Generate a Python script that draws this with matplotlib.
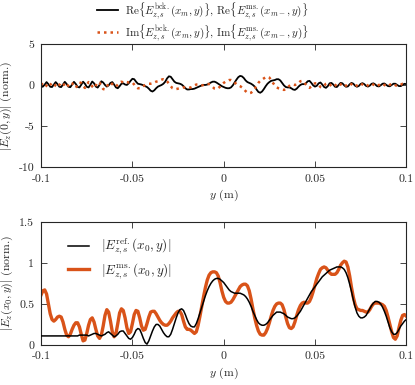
import matplotlib
matplotlib.use("Agg")
import matplotlib.pyplot as plt
import numpy as np

plt.rcParams['font.family'] = 'serif'
plt.rcParams['font.serif'] = ['cmr10', 'DejaVu Serif']
plt.rcParams['mathtext.fontset'] = 'cm'
plt.rcParams['axes.unicode_minus'] = False
plt.rcParams['font.size'] = 8.5

# sample positions along y (m), one every 1 mm
y_pos = np.linspace(-0.1, 0.1, 201)

# top panel: Re and Im of the field
re_field = [
    -0.25, -0.20, 0.05, 0.35, 0.10, -0.22, -0.25, 0.05, 0.35, 0.10,
    -0.22, -0.26, 0.05, 0.38, 0.12, -0.22, -0.27, 0.05, 0.38, 0.12,
    -0.24, -0.30, 0.03, 0.40, 0.15, -0.22, -0.30, 0.02, 0.42, 0.20,
    -0.20, -0.32, 0.00, 0.45, 0.30, 0.00, -0.20, -0.05, 0.25, 0.35,
    0.05, -0.30, -0.40, -0.15, 0.15, 0.20, 0.05, 0.00, 0.20, 0.50,
    0.75, 0.70, 0.40, 0.15, 0.10, 0.05, -0.05, -0.15, -0.25, -0.45,
    -0.70, -0.80, -0.65, -0.40, -0.20, -0.10, 0.00, 0.15, 0.40, 0.80,
    1.05, 1.00, 0.70, 0.40, 0.25, 0.20, 0.15, 0.05, -0.15, -0.40,
    -0.55, -0.55, -0.50, -0.50, -0.45, -0.35, -0.25, -0.15, -0.05, 0.00,
    0.00, 0.05, 0.15, 0.30, 0.40, 0.40, 0.30, 0.15, 0.00, -0.15,
    -0.25, -0.35, -0.40, -0.40, -0.30, -0.05, 0.30, 0.65, 0.95, 1.10,
    1.05, 0.85, 0.55, 0.35, 0.25, 0.15, 0.00, -0.20, -0.55, -0.85,
    -0.95, -0.80, -0.50, -0.15, 0.15, 0.35, 0.50, 0.55, 0.60, 0.70,
    0.70, 0.55, 0.25, -0.05, -0.25, -0.30, -0.30, -0.40, -0.55, -0.60,
    -0.45, -0.20, 0.00, 0.10, 0.10, 0.20, 0.45, 0.50, 0.25, -0.05,
    -0.20, -0.10, 0.20, 0.30, 0.05, -0.25, -0.35, -0.15, 0.20, 0.25,
    0.05, -0.22, -0.25, 0.00, 0.25, 0.20, -0.05, -0.22, -0.18, 0.08,
    0.25, 0.15, -0.10, -0.22, -0.12, 0.12, 0.22, 0.10, -0.12, -0.20,
    -0.08, 0.14, 0.20, 0.06, -0.14, -0.18, -0.04, 0.15, 0.18, 0.02,
    -0.14, -0.16, 0.00, 0.15, 0.15, 0.00, -0.14, -0.14, 0.02, 0.14,
    0.10,
]

im_field = [
    0.00, 0.28, 0.20, -0.12, -0.30, 0.00, 0.28, 0.20, -0.12, -0.30,
    0.00, 0.30, 0.22, -0.12, -0.32, 0.00, 0.30, 0.22, -0.14, -0.34,
    0.00, 0.32, 0.24, -0.15, -0.36, 0.00, 0.35, 0.25, -0.18, -0.40,
    -0.05, 0.35, 0.30, -0.15, -0.50, -0.55, -0.20, 0.20, 0.30, 0.10,
    -0.15, -0.20, 0.05, 0.30, 0.40, 0.30, 0.40, 0.35, 0.30, 0.35,
    0.30, 0.05, -0.25, -0.40, -0.40, -0.30, -0.15, 0.00, 0.10, 0.15,
    0.15, 0.20, 0.30, 0.40, 0.45, 0.55, 0.65, 0.70, 0.65, 0.45,
    0.15, -0.15, -0.40, -0.50, -0.50, -0.45, -0.40, -0.35, -0.30, -0.30,
    -0.30, -0.35, -0.30, -0.20, -0.05, 0.05, 0.05, 0.00, -0.05, 0.00,
    0.10, 0.15, 0.10, -0.05, -0.25, -0.45, -0.50, -0.40, -0.20, 0.05,
    0.25, 0.40, 0.50, 0.60, 0.60, 0.50, 0.30, 0.10, -0.05, -0.15,
    -0.30, -0.50, -0.75, -0.95, -1.00, -0.95, -0.75, -0.45, -0.10, 0.25,
    0.50, 0.65, 0.80, 0.95, 1.00, 0.90, 0.60, 0.25, -0.05, -0.30,
    -0.40, -0.45, -0.55, -0.60, -0.55, -0.35, -0.10, 0.05, 0.05, 0.00,
    0.05, 0.25, 0.45, 0.50, 0.35, 0.05, -0.25, -0.35, -0.20, 0.05,
    0.20, 0.20, 0.00, -0.25, -0.30, -0.10, 0.15, 0.25, 0.10, -0.15,
    -0.25, -0.10, 0.15, 0.25, 0.10, -0.15, -0.22, -0.08, 0.15, 0.22,
    0.08, -0.14, -0.20, -0.05, 0.15, 0.20, 0.05, -0.14, -0.18, -0.03,
    0.15, 0.18, 0.03, -0.14, -0.16, 0.00, 0.15, 0.16, 0.00, -0.14,
    -0.15, 0.02, 0.15, 0.14, -0.02, -0.14, -0.12, 0.03, 0.14, 0.12,
    -0.02,
]

# bottom panel: reference and measured magnitude
ref_mag = [
    0.11, 0.11, 0.11, 0.11, 0.11, 0.11, 0.11, 0.11, 0.11, 0.11,
    0.11, 0.11, 0.11, 0.11, 0.11, 0.11, 0.11, 0.11, 0.11, 0.11,
    0.11, 0.12, 0.12, 0.12, 0.12, 0.12, 0.11, 0.12, 0.13, 0.14,
    0.14, 0.13, 0.12, 0.11, 0.12, 0.13, 0.15, 0.16, 0.14, 0.12,
    0.10, 0.11, 0.13, 0.16, 0.17, 0.17, 0.14, 0.11, 0.08, 0.07,
    0.09, 0.13, 0.18, 0.20, 0.19, 0.14, 0.08, 0.03, 0.01, 0.05,
    0.11, 0.17, 0.22, 0.25, 0.25, 0.23, 0.19, 0.15, 0.12, 0.10,
    0.10, 0.13, 0.19, 0.26, 0.33, 0.39, 0.43, 0.44, 0.42, 0.37,
    0.31, 0.26, 0.23, 0.22, 0.22, 0.26, 0.32, 0.39, 0.46, 0.53,
    0.60, 0.66, 0.71, 0.75, 0.78, 0.80, 0.81, 0.81, 0.80, 0.78,
    0.76, 0.73, 0.70, 0.67, 0.65, 0.64, 0.63, 0.63, 0.63, 0.63,
    0.62, 0.61, 0.59, 0.56, 0.52, 0.47, 0.41, 0.36, 0.31, 0.27,
    0.25, 0.24, 0.24, 0.25, 0.27, 0.30, 0.33, 0.36, 0.38, 0.40,
    0.40, 0.40, 0.39, 0.38, 0.36, 0.34, 0.33, 0.32, 0.32, 0.33,
    0.35, 0.38, 0.41, 0.45, 0.49, 0.53, 0.57, 0.61, 0.65, 0.68,
    0.71, 0.74, 0.77, 0.80, 0.83, 0.85, 0.87, 0.89, 0.91, 0.92,
    0.93, 0.94, 0.95, 0.95, 0.95, 0.94, 0.92, 0.88, 0.82, 0.74,
    0.65, 0.55, 0.46, 0.39, 0.35, 0.33, 0.33, 0.34, 0.36, 0.40,
    0.44, 0.48, 0.51, 0.53, 0.53, 0.52, 0.50, 0.46, 0.41, 0.35,
    0.28, 0.21, 0.16, 0.13, 0.13, 0.15, 0.19, 0.23, 0.26, 0.29,
    0.31,
]

ms_mag = [
    0.61, 0.66, 0.67, 0.62, 0.50, 0.38, 0.31, 0.29, 0.31, 0.34,
    0.35, 0.34, 0.28, 0.19, 0.12, 0.10, 0.13, 0.19, 0.24, 0.27,
    0.27, 0.22, 0.13, 0.05, 0.06, 0.14, 0.24, 0.31, 0.33, 0.28,
    0.19, 0.11, 0.08, 0.12, 0.23, 0.36, 0.43, 0.40, 0.29, 0.16,
    0.10, 0.14, 0.26, 0.39, 0.44, 0.42, 0.33, 0.21, 0.14, 0.16,
    0.26, 0.37, 0.42, 0.41, 0.33, 0.23, 0.18, 0.19, 0.26, 0.34,
    0.40, 0.41, 0.41, 0.38, 0.34, 0.30, 0.27, 0.25, 0.24, 0.24,
    0.26, 0.29, 0.33, 0.36, 0.39, 0.41, 0.41, 0.37, 0.29, 0.22,
    0.19, 0.19, 0.18, 0.16, 0.14, 0.16, 0.24, 0.35, 0.47, 0.59,
    0.70, 0.79, 0.85, 0.88, 0.89, 0.89, 0.88, 0.84, 0.76, 0.66,
    0.58, 0.53, 0.51, 0.51, 0.52, 0.55, 0.59, 0.63, 0.67, 0.71,
    0.73, 0.74, 0.74, 0.72, 0.66, 0.56, 0.44, 0.33, 0.24, 0.17,
    0.13, 0.12, 0.12, 0.15, 0.20, 0.27, 0.35, 0.42, 0.47, 0.50,
    0.51, 0.51, 0.49, 0.43, 0.34, 0.26, 0.21, 0.20, 0.22, 0.28,
    0.36, 0.43, 0.48, 0.51, 0.52, 0.51, 0.51, 0.53, 0.58, 0.65,
    0.73, 0.81, 0.87, 0.92, 0.94, 0.95, 0.94, 0.91, 0.88, 0.86,
    0.86, 0.86, 0.88, 0.92, 0.97, 1.00, 1.02, 1.01, 0.95, 0.84,
    0.70, 0.58, 0.49, 0.44, 0.43, 0.42, 0.42, 0.41, 0.40, 0.40,
    0.43, 0.47, 0.50, 0.51, 0.51, 0.51, 0.50, 0.49, 0.47, 0.42,
    0.34, 0.25, 0.16, 0.09, 0.07, 0.11, 0.21, 0.30, 0.36, 0.37,
    0.35,
]

x_ticks = [-0.1, -0.05, 0, 0.05, 0.1]
x_ticklabels = ['-0.1', '-0.05', '0', '0.05', '0.1']
top_yticks = [-10, -5, 0, 5]
top_yticklabels = ['-10', '-5', '0', '5']
bot_yticks = [0, 0.5, 1, 1.5]
bot_yticklabels = ['0', '0.5', '1', '1.5']

orange = '#D95319'
axis_col = '#262626'

fig = plt.figure(figsize=(4.15, 3.85), dpi=100)
ax1 = fig.add_axes([0.099, 0.566, 0.880, 0.320])
ax2 = fig.add_axes([0.099, 0.104, 0.880, 0.320])


def style_axes(ax):
    for sp in ax.spines.values():
        sp.set_color(axis_col)
        sp.set_linewidth(0.8)
    ax.tick_params(direction='in', top=True, right=True, length=4,
                   width=0.6, colors=axis_col, labelsize=8.5)
    ax.tick_params(axis='x', pad=5)
    ax.tick_params(axis='y', pad=5)
    ax.set_xlim(-0.1, 0.1)
    ax.set_xticks(x_ticks)
    ax.set_xticklabels(x_ticklabels)
    ax.set_xlabel(r'$y$ (m)', color=axis_col, labelpad=3)


# top panel
l1, = ax1.plot(y_pos, re_field, color='black', lw=1.3)
l2, = ax1.plot(y_pos, im_field, color=orange, lw=1.8,
               linestyle=(0, (1, 1.6)))
style_axes(ax1)
ax1.set_ylim(-10, 5)
ax1.set_yticks(top_yticks)
ax1.set_yticklabels(top_yticklabels)
ax1.set_ylabel(r'$|E_z(0,y)|$ (norm.)', color=axis_col, labelpad=3)

fig.legend([l1, l2],
           [r'$\mathrm{Re}\{E_{z,s}^{\mathrm{bck.}}(x_m,y)\}$, '
            r'$\mathrm{Re}\{E_{z,s}^{\mathrm{ms.}}(x_{m-},y)\}$',
            r'$\mathrm{Im}\{E_{z,s}^{\mathrm{bck.}}(x_m,y)\}$, '
            r'$\mathrm{Im}\{E_{z,s}^{\mathrm{ms.}}(x_{m-},y)\}$'],
           loc='upper left', bbox_to_anchor=(0.21, 1.025), frameon=False,
           handlelength=1.9, handletextpad=0.6, labelspacing=0.12,
           fontsize=8, labelcolor=axis_col)

# bottom panel
l3, = ax2.plot(y_pos, ref_mag, color='black', lw=1.1, zorder=3)
l4, = ax2.plot(y_pos, ms_mag, color=orange, lw=2.4, zorder=2)
style_axes(ax2)
ax2.set_ylim(0, 1.5)
ax2.set_yticks(bot_yticks)
ax2.set_yticklabels(bot_yticklabels)
ax2.set_ylabel(r'$|E_z(x_0,y)|$ (norm.)', color=axis_col, labelpad=3)
ax2.legend([l3, l4],
           [r'$|E_{z,s}^{\mathrm{ref.}}(x_0,y)|$',
            r'$|E_{z,s}^{\mathrm{ms.}}(x_0,y)|$'],
           loc='upper left', bbox_to_anchor=(0.04, 0.97), frameon=False,
           handlelength=1.6, handletextpad=0.9, labelspacing=0.25,
           fontsize=9.5, labelcolor=axis_col)

fig.savefig('out.png', dpi=100)
